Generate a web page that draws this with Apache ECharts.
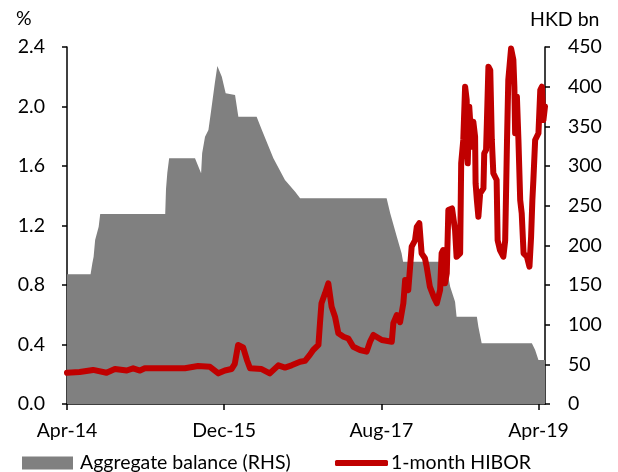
<!DOCTYPE html>
<html>
<head>
<meta charset="utf-8">
<script src="https://cdn.jsdelivr.net/npm/echarts@6/dist/echarts.min.js"></script>
<style>
html,body{margin:0;padding:0;background:#fff;}
#chart{width:618px;height:472px;}
</style>
</head>
<body>
<div id="chart"></div>
<script>
// ---- Data ----
const seriesNames = ['Aggregate balance (RHS)', '1-month HIBOR'];

// Aggregate balance, HKD bn (right axis)
const abDates = [
  '2014-04-01','2014-07-01','2014-07-08','2014-07-13','2014-07-19','2014-08-02','2014-08-08',
  '2015-04-16','2015-04-19','2015-04-24','2015-05-01',
  '2015-08-10','2015-09-03','2015-09-07','2015-09-18','2015-10-01','2015-10-11','2015-10-26','2015-11-05',
  '2015-11-22','2015-12-07','2016-01-13','2016-01-26','2016-04-05','2016-04-25','2016-06-09','2016-07-24',
  '2016-09-02','2016-09-21','2017-08-22','2017-09-05','2017-09-30','2017-10-19','2017-10-25',
  '2018-04-11','2018-04-17','2018-04-24','2018-05-13','2018-05-19','2018-08-06','2018-08-12','2018-08-25',
  '2019-03-06','2019-03-19','2019-04-01','2019-04-26'
];
const abValues = [
  163.5,163.5,177.4,185.7,206.7,223.5,239.5,
  239.5,271,291.6,309.7,
  309.7,290.8,316,337,345.4,368.5,404,426,
  412.6,391.7,389.5,362,362,345.4,309.7,282.4,
  267.6,259.3,259.3,240.4,211,190,179.4,
  179.4,160,147.9,129,110,110,97.4,76.5,
  76.5,68,55.5,55.5
];

// 1-month HIBOR, % (left axis)
const hiborDates = [
  '2014-04-01','2014-05-20','2014-07-11','2014-09-02','2014-10-04','2014-11-19','2014-12-14','2015-01-10','2015-01-29',
  '2015-07-01','2015-08-22','2015-10-07','2015-11-09','2015-12-04','2015-12-30','2016-01-12','2016-01-25','2016-02-13',
  '2016-02-27','2016-03-10','2016-04-24','2016-05-26','2016-06-28','2016-07-24','2016-08-19','2016-09-21','2016-10-10',
  '2016-10-29','2016-11-11','2016-12-01','2016-12-07','2016-12-13','2016-12-27','2017-01-09','2017-01-22','2017-02-04',
  '2017-02-16','2017-03-07','2017-03-26','2017-04-14','2017-05-10','2017-06-05','2017-06-18','2017-07-01','2017-08-03',
  '2017-09-11','2017-09-17','2017-09-30','2017-10-13','2017-10-26','2017-11-02','2017-11-14','2017-11-21','2017-11-27',
  '2017-12-10','2017-12-17','2017-12-27','2018-01-05','2018-01-18','2018-01-25','2018-02-06','2018-02-20','2018-03-03',
  '2018-03-16','2018-03-22','2018-03-28','2018-04-04','2018-04-11','2018-04-17','2018-05-01','2018-05-13','2018-05-19',
  '2018-06-02','2018-06-06','2018-06-14','2018-06-21','2018-06-27','2018-07-01','2018-07-07','2018-07-17','2018-07-23',
  '2018-07-30','2018-08-01','2018-08-06','2018-08-12','2018-08-19','2018-09-01','2018-09-04','2018-09-11','2018-09-14',
  '2018-09-20','2018-09-27','2018-10-03','2018-10-09','2018-10-22','2018-10-26','2018-11-04','2018-11-17','2018-11-24',
  '2018-12-01','2018-12-06','2018-12-17','2018-12-26','2018-12-30','2019-01-02','2019-01-09','2019-01-15','2019-01-22',
  '2019-01-28','2019-02-04','2019-02-16','2019-02-25','2019-03-03','2019-03-08','2019-03-12','2019-03-19','2019-04-01',
  '2019-04-08','2019-04-14','2019-04-20','2019-04-26'
];
const hiborValues = [
  0.21,0.215,0.229,0.21,0.235,0.225,0.24,0.225,0.24,
  0.24,0.255,0.25,0.206,0.225,0.235,0.27,0.397,0.38,
  0.296,0.24,0.235,0.206,0.26,0.245,0.26,0.284,0.29,
  0.33,0.363,0.397,0.543,0.677,0.744,0.811,0.654,0.587,
  0.475,0.452,0.44,0.385,0.363,0.352,0.419,0.464,0.43,
  0.419,0.543,0.598,0.55,0.677,0.834,0.766,0.923,1.058,
  1.10,1.19,1.215,1.013,0.98,0.923,0.789,0.72,0.677,
  0.766,1.013,1.035,0.811,0.879,1.304,1.315,1.17,0.99,
  1.013,1.618,1.775,2.133,2.044,1.618,1.999,1.73,1.898,
  1.797,1.484,1.371,1.259,1.417,1.45,1.685,1.708,1.887,
  2.268,2.245,1.775,1.551,1.506,1.10,1.035,0.99,1.10,
  1.775,2.178,2.39,2.313,2.133,1.82,2.066,1.775,1.371,
  1.282,1.013,0.99,0.923,1.125,1.371,1.506,1.775,1.82,
  2.111,2.133,1.909,2.0
];

const xTickDates = ['2014-04-01','2015-12-01','2017-08-01','2019-04-01'];
const xTickLabels = ['Apr-14','Dec-15','Aug-17','Apr-19'];
const xStart = '2014-04-01';
const xEnd = '2019-04-26';
const leftAxisName = '%';
const rightAxisName = 'HKD bn';

// ---- helpers ----
function toMonths(s) {
  const p = s.split('-').map(Number);
  const dim = new Date(p[0], p[1], 0).getDate();
  return (p[0] - 2014) * 12 + (p[1] - 4) + (p[2] - 1) / dim;
}
const tickVals = xTickDates.map(toMonths);
const abData = abDates.map((d, i) => [toMonths(d), abValues[i]]);
const hiborData = hiborDates.map((d, i) => [toMonths(d), hiborValues[i]]);

const FONT = 'Lato';
const FS = 19.5;
const chart = echarts.init(document.getElementById('chart'), null, {renderer: 'canvas'});
chart.setOption({
  animation: false,
  backgroundColor: '#fff',
  textStyle: {fontFamily: FONT},
  grid: {left: 67, right: 73, top: 47, bottom: 68},
  legend: [
    {
      left: 17, top: 448, itemWidth: 51, itemHeight: 13, itemGap: 0,
      textStyle: {fontFamily: FONT, fontSize: FS, color: '#000', padding: [0, 0, 0, 2]},
      data: [{name: seriesNames[0], icon: 'rect', itemStyle: {color: '#808080'}}]
    },
    {
      left: 330, top: 448, itemWidth: 53, itemHeight: 6, itemGap: 0,
      textStyle: {fontFamily: FONT, fontSize: FS, color: '#000', padding: [0, 0, 0, -2]},
      data: [{name: seriesNames[1], icon: 'roundRect', itemStyle: {color: '#C00000'}}]
    }
  ],
  xAxis: {
    type: 'value', min: toMonths(xStart), max: toMonths(xEnd), interval: 20,
    axisLine: {show: true, lineStyle: {color: '#000', width: 1.5}},
    axisTick: {show: true, length: 6, lineStyle: {color: '#000', width: 1.5}, customValues: tickVals},
    axisLabel: {
      customValues: tickVals, margin: 17, color: '#000', fontFamily: FONT, fontSize: FS,
      formatter: function (v) {
        for (let i = 0; i < tickVals.length; i++) if (Math.abs(tickVals[i] - v) < 1e-6) return xTickLabels[i];
        return '';
      }
    },
    splitLine: {show: false}
  },
  yAxis: [
    {
      type: 'value', min: 0, max: 2.4, interval: 0.4, position: 'left',
      axisLine: {show: true, lineStyle: {color: '#000', width: 1.5}},
      axisTick: {show: true, length: 5, lineStyle: {color: '#000', width: 1.5}},
      axisLabel: {margin: 22, color: '#000', fontFamily: FONT, fontSize: FS, formatter: v => v.toFixed(1)},
      splitLine: {show: false}
    },
    {
      type: 'value', min: 0, max: 450, interval: 50, position: 'right',
      axisLine: {show: true, lineStyle: {color: '#000', width: 1.5}},
      axisTick: {show: true, length: 5, lineStyle: {color: '#000', width: 1.5}},
      axisLabel: {margin: 23, color: '#000', fontFamily: FONT, fontSize: FS},
      splitLine: {show: false}
    }
  ],
  graphic: [
    {type: 'text', left: 16, top: 9, style: {text: leftAxisName, font: FS + 'px ' + FONT, fill: '#000'}},
    {type: 'text', left: 530, top: 10, style: {text: rightAxisName, font: FS + 'px ' + FONT, fill: '#000'}}
  ],
  series: [
    {
      name: seriesNames[0], type: 'line', yAxisIndex: 1, data: abData,
      symbol: 'none', color: '#808080',
      lineStyle: {width: 0, color: '#808080'},
      areaStyle: {color: '#808080', opacity: 1},
      z: 1
    },
    {
      name: seriesNames[1], type: 'line', yAxisIndex: 0, data: hiborData,
      symbol: 'none', color: '#C00000',
      lineStyle: {width: 6, color: '#C00000', join: 'round', cap: 'round'},
      z: 2
    }
  ]
});
</script>
</body>
</html>
